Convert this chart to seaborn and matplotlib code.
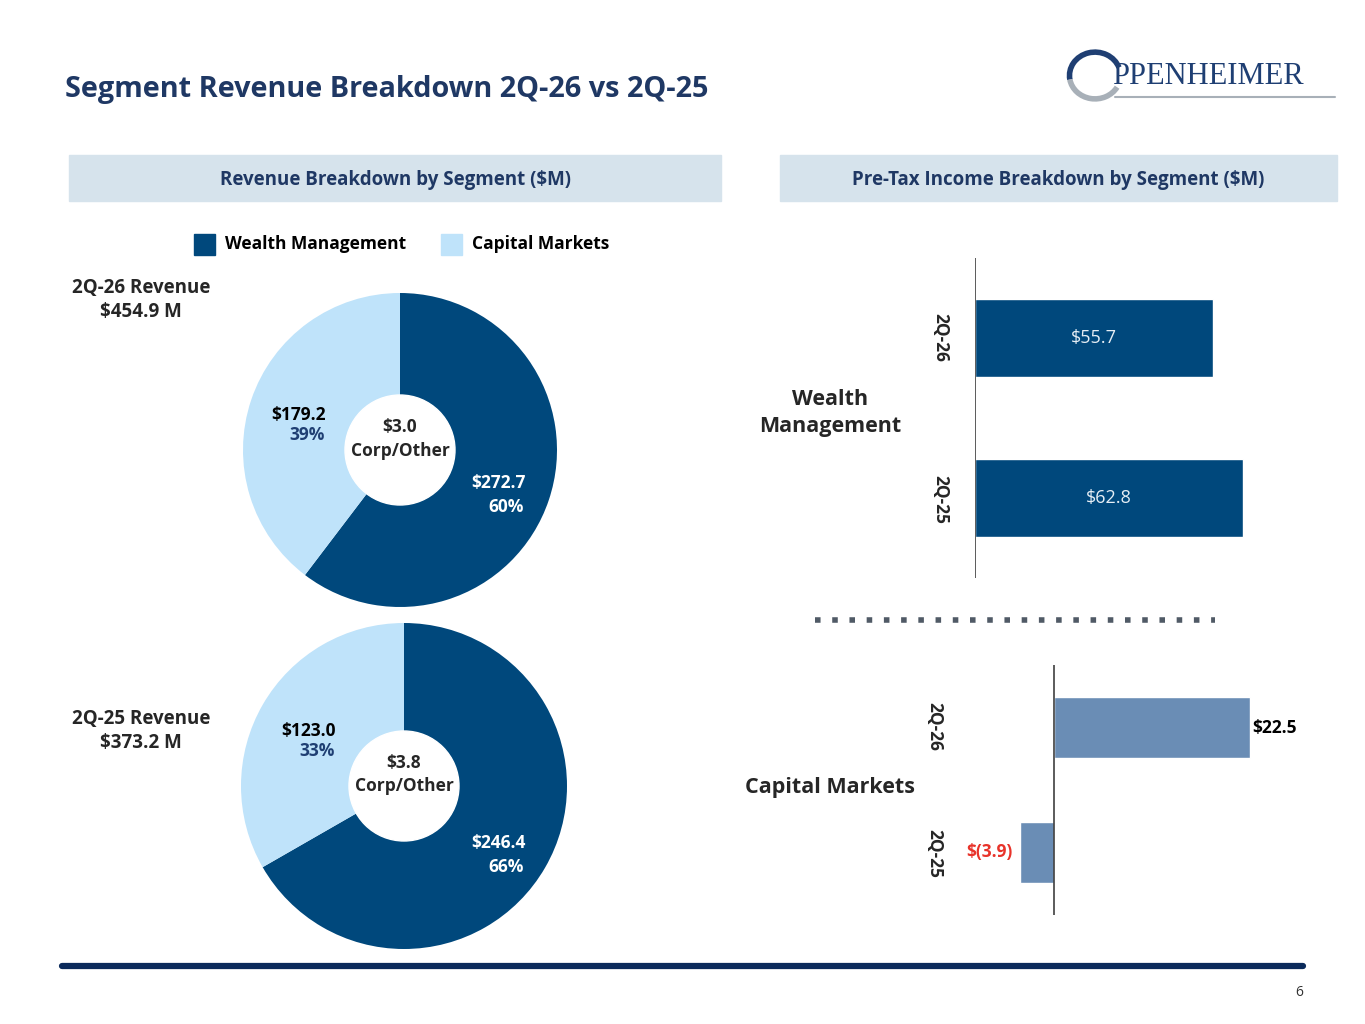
import matplotlib
matplotlib.use("Agg")
import matplotlib.pyplot as plt
import matplotlib.patches as mpatches
import seaborn as sns
import pandas as pd

# ---- data ----
pie_segments = ["Wealth Management", "Capital Markets"]
rev_26 = [272.7, 179.2]
rev_25 = [246.4, 123.0]
pct_26 = ["60%", "39%"]
pct_25 = ["66%", "33%"]
corp_26 = 3.0
corp_25 = 3.8
total_26 = 454.9
total_25 = 373.2

periods = ["2Q-26", "2Q-25"]
wm_pretax = [55.7, 62.8]
cm_pretax = [22.5, -3.9]

NAVY = "#1F3864"
WM = "#00487C"
CM = "#BFE3FA"
CMBAR = "#6A8DB5"
HDR = "#D6E3EC"

sns.set_theme(style="white")
plt.rcParams['font.family'] = ['Open Sans', 'DejaVu Sans']

W, H = 1365, 1024
fig = plt.figure(figsize=(W / 100, H / 100), dpi=100)


def px_axes(x0, y0, x1, y1):
    return fig.add_axes([x0 / W, 1 - y1 / H, (x1 - x0) / W, (y1 - y0) / H])


def ftext(x, y, s, **kw):
    t = fig.text(x / W, 1 - y / H, s, **kw)
    t.set_zorder(10)
    return t


# title
ftext(65, 90, "Segment Revenue Breakdown 2Q-26 vs 2Q-25", fontsize=20.8,
      fontweight="bold", color=NAVY, va="center")

# logo
ftext(1112, 77, "PPENHEIMER", fontsize=22, color="#1F3F73", va="center",
      family=["Liberation Serif"])
lax = px_axes(1065, 48, 1125, 103)
lax.set_xlim(-1, 1); lax.set_ylim(-1, 1); lax.axis("off")
lax.add_patch(mpatches.Arc((0, 0), 1.7, 1.7, theta1=20, theta2=190, lw=4, color="#1F3F73"))
lax.add_patch(mpatches.Arc((0, 0), 1.7, 1.7, theta1=190, theta2=330, lw=4, color="#A8B0B8"))
fig.add_artist(plt.Line2D([1115 / W, 1335 / W], [1 - 97 / H] * 2, color="#A8B0B8", lw=1.5))

# section headers
for x0, x1, txt in [(69, 721, "Revenue Breakdown by Segment ($M)"),
                    (780, 1337, "Pre-Tax Income Breakdown by Segment ($M)")]:
    fig.add_artist(mpatches.Rectangle((x0 / W, 1 - 201 / H), (x1 - x0) / W, 46 / H,
                                      color=HDR, transform=fig.transFigure))
    ftext((x0 + x1) / 2, 180, txt, fontsize=13.5, fontweight="bold", color=NAVY,
          ha="center", va="center")

# legend
for x, c, lab in [(194, WM, "Wealth Management"), (441, CM, "Capital Markets")]:
    fig.add_artist(mpatches.Rectangle((x / W, 1 - 255 / H), 21 / W, 21 / H,
                                      color=c, transform=fig.transFigure))
    ftext(x + 31, 244, lab, fontsize=12.5, fontweight="bold", color="black", va="center")


def donut(cx, cy, r, vals, pcts, corp, total, label_y, wm_xy, cm_xy, cap_y):
    ax = px_axes(cx - r, cy - r, cx + r, cy + r)
    ax.pie(vals, colors=[WM, CM], startangle=90, counterclock=False,
           wedgeprops=dict(linewidth=0))
    ax.add_patch(plt.Circle((0, 0), 55 / r, color="white"))
    ax.set_xlim(-1, 1)
    ax.set_ylim(-1, 1)
    ax.text(0, 0.07, f"${corp:.1f}\nCorp/Other", ha="center", va="center",
            fontsize=12.5, fontweight="bold", linespacing=1.4)
    ftext(wm_xy[0], wm_xy[1], f"${vals[0]:.1f}", fontsize=12.5, fontweight="bold",
          color="white", ha="center", va="center")
    ftext(wm_xy[0] + 8, wm_xy[1] + 24, pcts[0], fontsize=12.5, fontweight="bold",
          color="white", ha="center", va="center")
    ftext(cm_xy[0], cm_xy[1], f"${vals[1]:.1f}", fontsize=12.5, fontweight="bold",
          color="black", ha="center", va="center")
    ftext(cm_xy[0] + 9, cm_xy[1] + 20, pcts[1], fontsize=12.5, fontweight="bold",
          color="#1F3F73", ha="center", va="center")
    ftext(141, cap_y, f"{label_y} Revenue\n${total:.1f} M", fontsize=13.5,
          fontweight="bold", ha="center", va="center", linespacing=1.3)


donut(400, 450, 157, rev_26, pct_26, corp_26, total_26, "2Q-26", (498, 483), (298, 415), 300)
donut(404, 786, 163, rev_25, pct_25, corp_25, total_25, "2Q-25", (498, 843), (308, 731), 731)


def barpanel(x0, y0, x1, y1, vals, xlim, color, labels_inside):
    ax = px_axes(x0, y0, x1, y1)
    df = pd.DataFrame({"period": periods, "value": vals})
    sns.barplot(data=df, y="period", x="value", orient="h", color=color,
                saturation=1, width=0.49, ax=ax)
    ax.set_xlim(*xlim)
    ax.set_ylim(1.5, -0.5)
    ax.axis("off")
    ax.axvline(0, color="#404040", lw=1.2, ymin=0, ymax=1)
    for i, v in enumerate(vals):
        lab = f"${v:.1f}" if v >= 0 else f"$({-v:.1f})"
        if labels_inside:
            ax.text(v / 2, i, lab, color="#E6EEF5", fontsize=13, ha="center", va="center")
        elif v >= 0:
            ax.text(v + 0.3, i, lab, color="black", fontsize=12.5, fontweight="bold",
                    ha="left", va="center")
        else:
            ax.text(v - 0.8, i, lab, color="#E8332A", fontsize=12.5, fontweight="bold",
                    ha="right", va="center")
    return ax


barpanel(975, 258, 1300, 578, wm_pretax, (0, 76.1), WM, True)
barpanel(1000, 665, 1300, 915, cm_pretax, (-6.2, 28.3), CMBAR, False)

for y, p in [(337, "2Q-26"), (499, "2Q-25"), (726, "2Q-26"), (853, "2Q-25")]:
    ftext(940 if y < 600 else 934, y, p, fontsize=12.5, fontweight="bold",
          rotation=270, ha="center", va="center")

ftext(830, 413, "Wealth\nManagement", fontsize=15.5, fontweight="bold",
      ha="center", va="center", linespacing=1.4)
ftext(830, 788, "Capital Markets", fontsize=15.5, fontweight="bold",
      ha="center", va="center")

# dotted separator
fig.add_artist(plt.Line2D([815 / W, 1215 / W], [1 - 620 / H] * 2, color="#505A66",
                          lw=4, linestyle=(0, (1, 2.1))))

# footer rule and page number
fig.add_artist(plt.Line2D([62 / W, 1303 / W], [1 - 966 / H] * 2, color="#0B2A5B", lw=4.5))
ftext(1299, 992, "6", fontsize=10, ha="center", va="center", color="#333333")

fig.savefig("out.png", dpi=100)
